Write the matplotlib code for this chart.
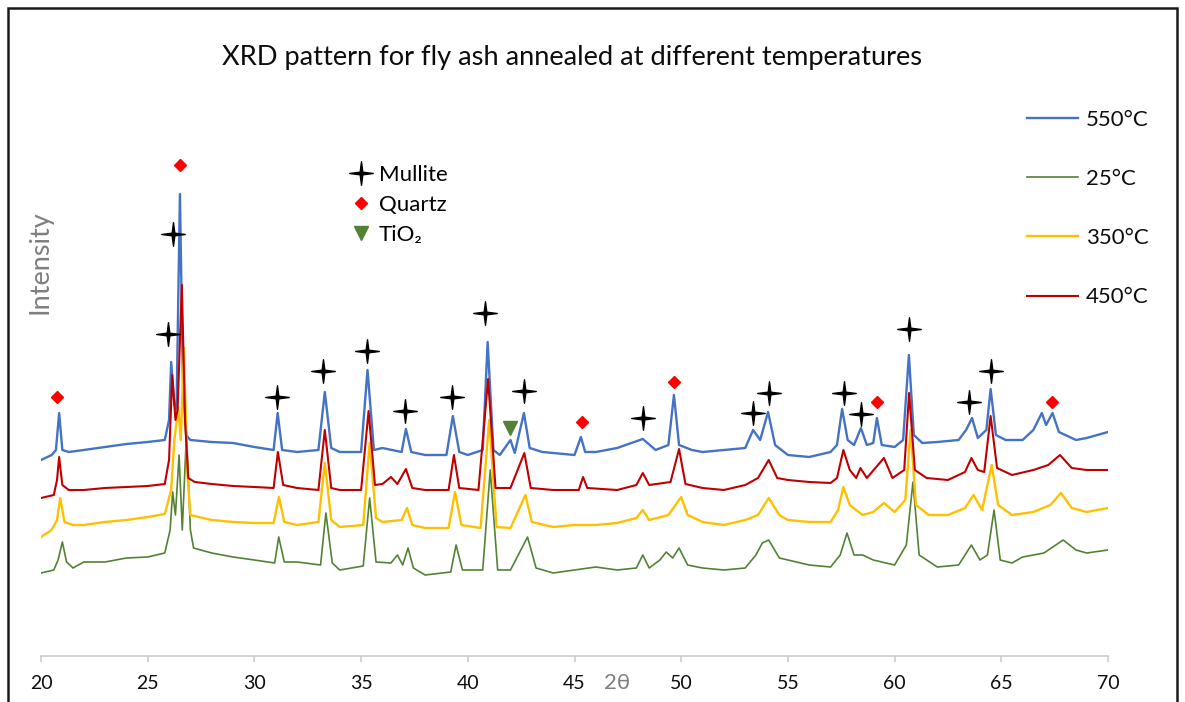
import matplotlib
matplotlib.use("Agg")
import matplotlib.pyplot as plt
from matplotlib.path import Path
from matplotlib.lines import Line2D
from matplotlib.patches import Rectangle
import numpy as np

plt.rcParams['font.family'] = ['Lato', 'DejaVu Sans']

# ---- data (2theta, intensity in arbitrary units) ----
x_550 = [20.0, 20.5, 20.7, 20.85, 21.0, 21.3, 22, 23, 24, 25, 25.8, 26.0, 26.1, 26.25, 26.35, 26.51, 26.65, 26.8,
         27, 28, 29, 30, 30.9, 31.09, 31.3, 32, 33, 33.3, 33.6, 34, 35, 35.3, 35.6, 36, 36.9, 37.1, 37.35, 38, 39,
         39.3, 39.6, 40, 40.7, 40.93, 41.2, 41.5, 42.0, 42.2, 42.63, 42.9, 43.5, 44, 45, 45.3, 45.5, 46, 47, 48.2,
         48.8, 49.4, 49.66, 49.9, 50.5, 51, 52, 53, 53.37, 53.7, 54.07, 54.4, 55, 56, 57, 57.3, 57.54, 57.8, 58.1,
         58.42, 58.7, 59.0, 59.17, 59.4, 60, 60.4, 60.67, 60.9, 61.3, 62, 63, 63.35, 63.63, 63.9, 64.3, 64.5, 64.75,
         65.2, 66, 66.5, 66.9, 67.1, 67.4, 67.7, 68.5, 69, 70]
y_550 = [196, 201, 206, 243, 206, 204, 206, 209, 212, 214, 216, 236, 294, 251, 246, 462, 276, 221,
         216, 214, 213, 209, 206, 243, 206, 204, 206, 264, 208, 204, 204, 286, 206, 208, 204, 227, 204, 201, 201,
         240, 204, 201, 206, 314, 206, 201, 216, 203, 243, 208, 204, 203, 201, 219, 204, 204, 208, 217,
         206, 211, 261, 211, 206, 204, 206, 208, 226, 216, 244, 211, 201, 199, 204, 211, 247, 216, 211,
         228, 211, 213, 238, 211, 209, 216, 301, 221, 213, 214, 216, 226, 238, 218, 226, 267, 221,
         216, 216, 226, 243, 231, 243, 224, 216, 218, 224]

x_25 = [20.0, 20.6, 20.8, 21.0, 21.2, 21.5, 22, 23, 24, 25, 25.8, 26.05, 26.17, 26.3, 26.47, 26.62, 26.82, 27.0,
        27.15, 28, 29, 30, 30.95, 31.14, 31.4, 32, 33.1, 33.35, 33.65, 34, 35.1, 35.4, 35.7, 36.4, 36.7, 36.95,
        37.2, 37.45, 38, 39.2, 39.45, 39.75, 40.7, 41.05, 41.4, 42, 42.8, 43.2, 44, 45, 46, 47, 47.9, 48.2, 48.5,
        49.0, 49.3, 49.6, 49.9, 50.3, 51, 52, 53, 53.5, 53.8, 54.1, 54.6, 55, 56, 57, 57.45, 57.77, 58.1, 58.5,
        59, 60, 60.55, 60.86, 61.15, 62, 63, 63.6, 64.0, 64.35, 64.66, 64.95, 65.5, 66, 67, 67.9, 68.5, 69, 70]
y_25 = [83, 86, 96, 114, 94, 88, 94, 94, 98, 99, 103, 126, 164, 141, 201, 126, 224, 126,
        108, 103, 99, 96, 93, 119, 94, 94, 91, 143, 93, 86, 90, 158, 94, 93, 101, 91,
        108, 88, 81, 84, 111, 86, 86, 186, 86, 86, 119, 88, 83, 86, 89, 86, 88, 101, 88,
        96, 104, 98, 108, 91, 88, 86, 88, 101, 113, 116, 98, 96, 91, 89, 101, 123, 101, 101,
        96, 91, 111, 174, 101, 89, 91, 111, 96, 101, 146, 96, 93, 99, 103, 116, 106, 103, 106]

x_350 = [20.0, 20.5, 20.75, 20.9, 21.1, 21.5, 22, 23, 24, 25, 25.8, 26.1, 26.25, 26.43, 26.55, 26.7, 26.85, 27.0,
         28, 29, 30, 30.9, 31.15, 31.4, 32, 33, 33.3, 33.6, 34, 35.1, 35.4, 35.7, 36, 36.9, 37.15, 37.4, 38, 39.1,
         39.4, 39.7, 40.6, 41.0, 41.35, 42, 42.7, 43.0, 44, 45, 46, 47, 47.9, 48.2, 48.5, 49.4, 50.0, 50.3, 51, 52,
         53, 53.6, 54.1, 54.6, 55, 56, 57, 57.35, 57.6, 57.9, 58.5, 59.0, 59.5, 60, 60.5, 60.75, 61.0, 61.6, 62.5,
         63.3, 63.7, 64.1, 64.55, 64.85, 65.5, 66.5, 67.3, 67.8, 68.3, 69, 70]
y_350 = [119, 126, 136, 158, 134, 131, 131, 134, 136, 139, 142, 166, 216, 249, 216, 308, 186, 141,
         136, 134, 133, 133, 159, 134, 131, 134, 193, 136, 129, 131, 213, 138, 134, 136, 148, 131, 128, 128,
         164, 131, 128, 236, 129, 128, 161, 134, 129, 131, 131, 133, 138, 146, 136, 141, 159, 141, 134, 131,
         136, 141, 158, 141, 136, 134, 134, 146, 169, 151, 141, 144, 153, 144, 156, 226, 151, 141, 141,
         148, 161, 146, 191, 151, 141, 144, 151, 163, 148, 144, 148]

x_450 = [20.0, 20.6, 20.75, 20.85, 21.0, 21.3, 22, 23, 24, 25, 25.8, 26.0, 26.15, 26.3, 26.4, 26.6, 26.75, 26.9,
         27.2, 28, 29, 30, 30.9, 31.1, 31.35, 32, 33, 33.3, 33.6, 34, 35, 35.35, 35.65, 36, 36.4, 36.7, 37.1, 37.4,
         38, 39.1, 39.35, 39.6, 40.5, 40.95, 41.3, 42, 42.65, 42.95, 44, 45.2, 45.4, 45.6, 47, 47.9, 48.2, 48.5,
         49.5, 49.9, 50.2, 51, 52, 53, 53.6, 54.1, 54.5, 55, 56, 57, 57.3, 57.6, 57.9, 58.2, 58.4, 58.7, 59.5, 59.9,
         60.45, 60.68, 60.95, 61.5, 62.5, 63.3, 63.6, 63.9, 64.2, 64.5, 64.8, 65.5, 66.5, 67.2, 67.75, 68.3, 69, 70]
y_450 = [158, 161, 176, 199, 171, 166, 166, 168, 169, 170, 172, 196, 281, 236, 246, 371, 236, 178,
         174, 172, 170, 169, 168, 204, 171, 168, 166, 226, 168, 166, 166, 245, 171, 172, 179, 172, 187, 168,
         166, 166, 201, 168, 166, 277, 168, 168, 203, 168, 166, 166, 179, 168, 166, 171, 183, 171,
         174, 207, 172, 168, 166, 171, 178, 196, 178, 176, 174, 173, 178, 206, 186, 178, 188, 178, 198, 178,
         186, 263, 186, 178, 176, 184, 198, 186, 184, 240, 188, 181, 186, 191, 201, 188, 186, 186]

series_labels = ['550°C', '25°C', '350°C', '450°C']
series_colors = ['#4472C4', '#548235', '#FFC000', '#C00000']

# phase markers (2theta, height)
mullite_x = [25.94, 26.2, 31.06, 33.23, 35.29, 37.06, 39.27, 40.8, 42.65, 48.22, 53.35, 54.11, 57.63, 58.41,
             60.68, 63.5, 64.5]
mullite_y = [322, 422, 259, 285, 305, 245, 259, 343, 265, 238, 243, 263, 263, 242, 327, 254, 285]
quartz_x = [20.73, 26.5, 45.36, 49.68, 59.16, 67.38]
quartz_y = [259, 491, 234, 274, 254, 254]
tio2_x = [41.98]
tio2_y = [228]

xticks = [20, 25, 30, 35, 40, 45, 50, 55, 60, 65, 70]

# 4-pointed star marker
ang = np.arange(8) * np.pi / 4
rad = np.where(np.arange(8) % 2 == 0, 1.0, 0.16)
verts = np.column_stack([rad * np.cos(ang), rad * np.sin(ang)])
verts = np.vstack([verts, verts[:1]])
star = Path(verts, [Path.MOVETO] + [Path.LINETO] * 7 + [Path.CLOSEPOLY])

fig = plt.figure(figsize=(11.85, 7.02), dpi=100)
W, H = 1185, 702
ax = fig.add_axes([41 / W, (H - 656) / H, (1108 - 41) / W, (656 - 100) / H])

xs = [x_550, x_25, x_350, x_450]
ys = [y_550, y_25, y_350, y_450]
widths = [1.7, 1.2, 1.7, 1.5]
for i in range(4):
    ax.plot(xs[i], ys[i], color=series_colors[i], lw=widths[i], label=series_labels[i], zorder=2 + i)

ax.plot(mullite_x, mullite_y, ls='none', marker=star, ms=17, color='black', zorder=10)
ax.plot(quartz_x, quartz_y, ls='none', marker='D', ms=6.6, color='#FF0000', zorder=10)
ax.plot(tio2_x, tio2_y, ls='none', marker='v', ms=10.5, color='#548235', zorder=10)

ax.set_xlim(20, 70)
ax.set_ylim(0, 556)
ax.set_xticks(xticks)
ax.set_yticks([])
for s in ['top', 'right', 'left']:
    ax.spines[s].set_visible(False)
ax.spines['bottom'].set_color('#C8C8C8')
ax.spines['bottom'].set_linewidth(1.1)
ax.tick_params(axis='x', direction='out', length=4.5, width=1.1, color='#C8C8C8',
               labelsize=14, labelcolor='#0D0D0D', pad=9)

ax.text(47.0, -27, '2θ', fontsize=16, color='#7F7F7F', ha='center', va='center',
        transform=ax.transData, clip_on=False)
fig.text(40 / W, 1 - 262 / H, 'Intensity', rotation=90, fontsize=19.5, color='#7F7F7F',
         ha='center', va='center')
fig.text(572 / W, 1 - 58 / H, 'XRD pattern for fly ash annealed at different temperatures',
         fontsize=19.6, color='#0D0D0D', ha='center', va='center')

leg1 = ax.legend(loc='upper left', bbox_to_anchor=(1027 / W, 1 - 110 / H), bbox_transform=fig.transFigure,
                 frameon=False, fontsize=16, handlelength=2.3, handletextpad=0.35, labelspacing=1.76,
                 borderpad=0, borderaxespad=0)
for t in leg1.get_texts():
    t.set_color('#0D0D0D')
ax.add_artist(leg1)

ph = [Line2D([], [], ls='none', marker=star, ms=17, color='black'),
      Line2D([], [], ls='none', marker='D', ms=6.6, color='#FF0000'),
      Line2D([], [], ls='none', marker='v', ms=10.5, color='#548235')]
leg2 = ax.legend(ph, ['Mullite', 'Quartz', 'TiO₂'], loc='upper left',
                 bbox_to_anchor=(350 / W, 1 - 165 / H), bbox_transform=fig.transFigure,
                 frameon=False, fontsize=16, handlelength=1.0, handletextpad=0.3, labelspacing=0.45,
                 borderpad=0, borderaxespad=0)

fig.patches.append(Rectangle((8 / W, -0.05), (1177 - 8) / W, 1.05 - 8 / H, transform=fig.transFigure,
                             fill=False, edgecolor='#1A1A1A', lw=1.8))

fig.savefig('out.png', dpi=100)
